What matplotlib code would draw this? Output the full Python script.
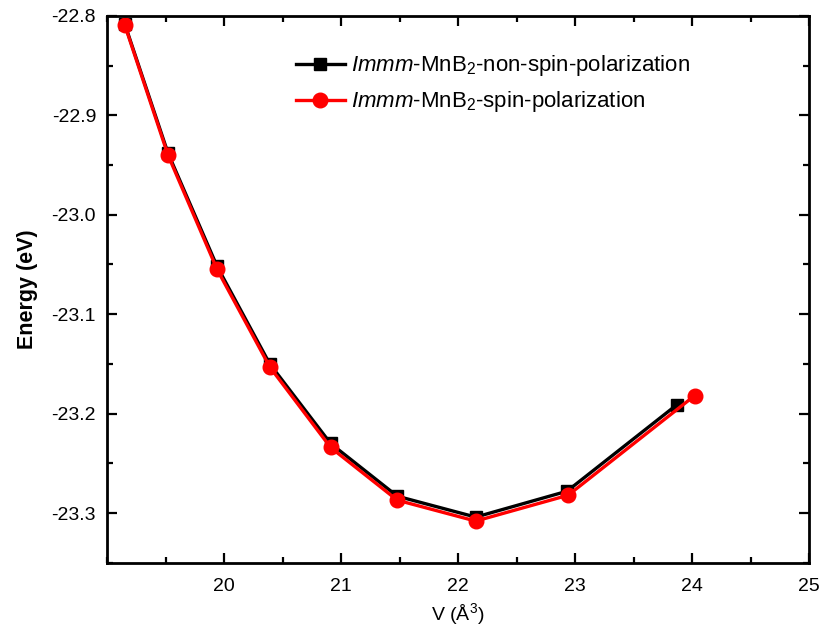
import matplotlib
matplotlib.use("Agg")
import matplotlib.pyplot as plt
from matplotlib.ticker import MultipleLocator

plt.rcParams['font.family'] = ['Liberation Sans', 'DejaVu Sans']
plt.rcParams['mathtext.fontset'] = 'custom'
plt.rcParams['mathtext.rm'] = 'Liberation Sans'
plt.rcParams['mathtext.it'] = 'Liberation Sans:italic'
plt.rcParams['mathtext.bf'] = 'Liberation Sans:bold'

v_nsp = [19.15, 19.52, 19.94, 20.39, 20.91, 21.48, 22.15, 22.93, 23.87]
e_nsp = [-22.808, -22.938, -23.052, -23.150, -23.230, -23.283, -23.304, -23.278, -23.191]
v_sp = [19.15, 19.52, 19.94, 20.39, 20.91, 21.48, 22.15, 22.94, 24.02]
e_sp = [-22.809, -22.940, -23.055, -23.153, -23.234, -23.287, -23.308, -23.282, -23.182]

xticks = [20, 21, 22, 23, 24, 25]
yticks = [-22.8, -22.9, -23.0, -23.1, -23.2, -23.3]
yticklabels = ['-22.8', '-22.9', '-23.0', '-23.1', '-23.2', '-23.3']

label_nsp = r'$\it{Immm}$-MnB$_2$-non-spin-polarization'
label_sp = r'$\it{Immm}$-MnB$_2$-spin-polarization'

fig = plt.figure(figsize=(8.24, 6.31), dpi=100)
ax = fig.add_axes([0.130, 0.108, 0.852, 0.867])

ax.plot(v_nsp, e_nsp, '-s', color='black', lw=2.4, ms=9, label=label_nsp)
ax.plot(v_sp, e_sp, '-o', color='red', mec='red', lw=2.4, ms=10.5, label=label_sp)

ax.set_xlim(19, 25)
ax.set_ylim(-23.35, -22.8)
ax.xaxis.set_minor_locator(MultipleLocator(0.5))
ax.yaxis.set_minor_locator(MultipleLocator(0.05))
ax.set_xticks(xticks)
ax.set_yticks(yticks)
ax.set_yticklabels(yticklabels)

ax.tick_params(which='both', direction='in', top=True, right=True, width=1.6, labelsize=14)
ax.tick_params(which='major', length=7)
ax.tick_params(which='minor', length=4)
ax.tick_params(axis='x', which='major', pad=11)
ax.tick_params(axis='y', which='major', pad=8)
for s in ax.spines.values():
    s.set_linewidth(2.0)

ax.set_xlabel(r'V ($\mathrm{\AA}^3$)', fontsize=14, labelpad=4)
ax.set_ylabel('Energy (eV)', fontsize=15.5, fontweight='bold', labelpad=10)

leg = ax.legend(loc='upper left', bbox_to_anchor=(0.24, 0.968), frameon=False,
                fontsize=16, handlelength=2.2, handletextpad=0.3, labelspacing=0.5)

fig.savefig('out.png', dpi=100)
